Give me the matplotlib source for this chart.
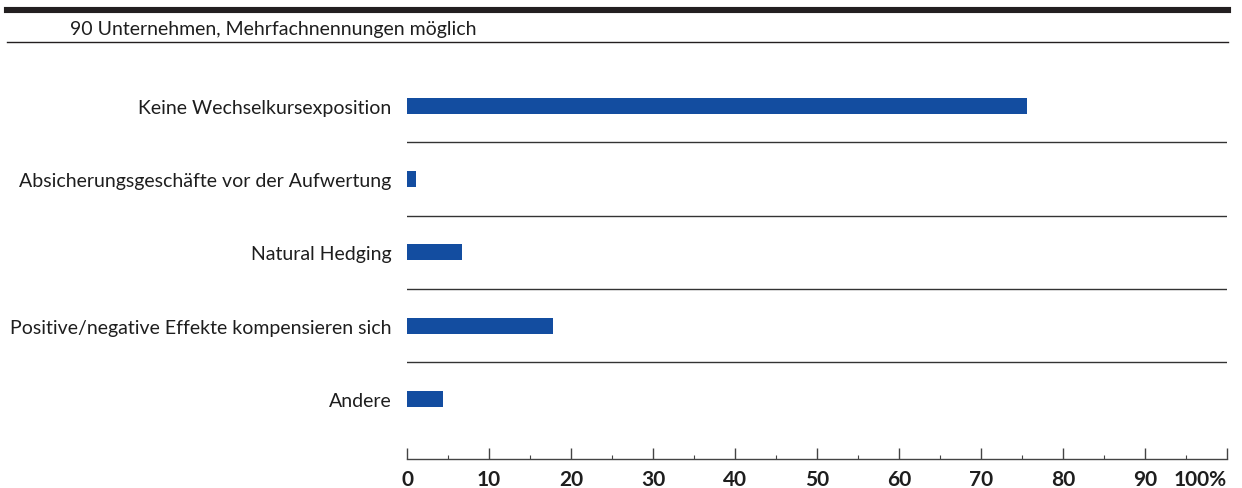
import matplotlib.pyplot as plt
from matplotlib.lines import Line2D
from matplotlib.ticker import MultipleLocator

plt.rcParams['font.family'] = ['Lato', 'DejaVu Sans']

categories = [
    'Keine Wechselkursexposition',
    'Absicherungsgeschäfte vor der Aufwertung',
    'Natural Hedging',
    'Positive/negative Effekte kompensieren sich',
    'Andere',
]
shares = [75.6, 1.1, 6.7, 17.8, 4.4]
subtitle = '90 Unternehmen, Mehrfachnennungen möglich'
tick_values = list(range(0, 101, 10))
tick_labels = [str(v) for v in tick_values[:-1]] + ['100%']

bar_color = '#134da0'
text_color = '#1e1e1e'

W, H = 1242, 489
fig = plt.figure(figsize=(W / 100, H / 100), dpi=100)

# header rules and subtitle
fig.add_artist(Line2D([7 / W, 1228 / W], [1 - 11 / H, 1 - 11 / H],
                      transform=fig.transFigure, color='#231f20', lw=4.4))
fig.add_artist(Line2D([7 / W, 1228 / W], [1 - 43 / H, 1 - 43 / H],
                      transform=fig.transFigure, color='#231f20', lw=1.0))
fig.text(70 / W, 1 - 29 / H, subtitle, ha='left', va='center',
         fontsize=14, color=text_color)

ax = fig.add_axes([407 / W, 1 - 460 / H, 820 / W, 390 / H])

# top category first
n = len(categories)
ypos = [n - 1 - i for i in range(n)]
ax.barh(ypos, shares, height=0.22, color=bar_color, zorder=3)

for k in range(n - 1):
    ax.axhline(k + 0.5, color='#333333', lw=1.0, zorder=1)

ax.set_xlim(0, 100)
ax.set_ylim(-0.82, 4.5)

ax.set_yticks(ypos)
ax.set_yticklabels(categories, fontsize=14, color=text_color)
ax.tick_params(axis='y', length=0, pad=11)

ax.set_xticks(tick_values)
ax.set_xticklabels(tick_labels, fontsize=15, fontweight='bold', color=text_color)
ax.get_xticklabels()[-1].set_horizontalalignment('right')
ax.xaxis.set_minor_locator(MultipleLocator(5))
ax.tick_params(axis='x', which='major', direction='in', length=8,
               width=1, color='#444444', pad=7)
ax.tick_params(axis='x', which='minor', direction='in', length=3,
               width=0.8, color='#444444')

for side in ['top', 'left', 'right']:
    ax.spines[side].set_visible(False)
ax.spines['bottom'].set_color('#444444')
ax.spines['bottom'].set_linewidth(1.0)

fig.savefig('out.png', dpi=100)
